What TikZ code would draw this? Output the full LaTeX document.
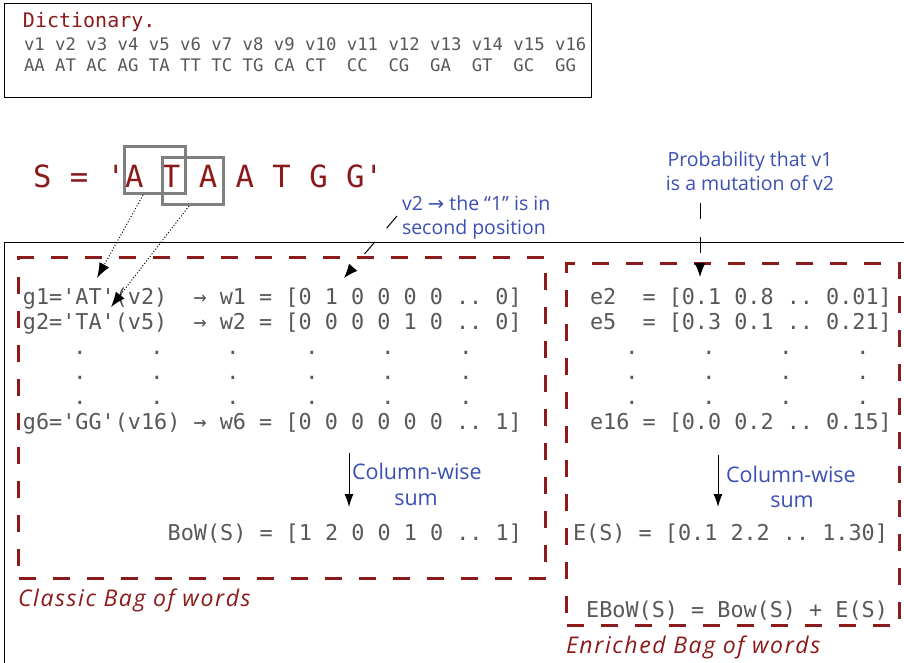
\documentclass[tikz,border=0pt]{standalone}
\usepackage{fontspec}
\setmonofont{DejaVu Sans Mono}
\newfontfamily\labfont{Open Sans}
\newfontfamily\italfont[LetterSpace=7]{Open Sans Italic}
\newfontfamily\symfont{DejaVu Sans}
\usetikzlibrary{arrows.meta,calc}
\definecolor{dred}{RGB}{139,26,26}
\definecolor{lblue}{RGB}{60,80,180}
\definecolor{tgray}{RGB}{88,88,88}
\definecolor{bgray}{RGB}{128,128,128}
\begin{document}
\begin{tikzpicture}[x=1pt,y=-1pt,
  txt/.style={inner sep=0pt,outer sep=0pt,anchor=base west},
  mono/.style={txt,font=\ttfamily\fontsize{21.8}{24}\selectfont,text=tgray},
  dictt/.style={txt,font=\ttfamily\fontsize{17.3}{20}\selectfont,text=tgray},
  bigmono/.style={txt,font=\ttfamily\fontsize{30.6}{34}\selectfont,text=dred},
  lab/.style={txt,font=\labfont\fontsize{19.5}{24}\selectfont,text=lblue},
  sumlab/.style={txt,font=\labfont\fontsize{21.5}{24}\selectfont,text=lblue},
  ital/.style={txt,font=\italfont\fontsize{23}{28}\selectfont,text=dred},
  redbox/.style={draw=dred,line width=3.2pt,dash pattern=on 17pt off 17pt,inner sep=0pt,anchor=north west},
  gbox/.style={draw=bgray,line width=3pt,inner sep=0pt,anchor=north west,minimum width=61pt,minimum height=47pt},
  dotarrow/.style={dotted,line width=1pt,-{Latex[length=15pt,width=11pt]}},
  dasharrow/.style={line width=1pt,dash pattern=on 16pt off 18pt,-{Latex[length=14pt,width=11pt]}},
  sumarrow/.style={line width=1pt,-{Latex[length=13pt,width=9pt]}}
]
\clip (0,0) rectangle (904,663);
\fill[white] (0,0) rectangle (904,663);

% dictionary
\node[draw,line width=1pt,inner sep=0pt,anchor=north west,minimum width=587pt,minimum height=94pt] (dictbox) at (4,3) {};
\node[dictt,text=dred,font=\ttfamily\fontsize{20}{22}\selectfont] (dtitle) at (23,28) {Dictionary.};
\node[dictt] (vrow) at (24,51) {v1 v2 v3 v4 v5 v6 v7 v8 v9 v10 v11 v12 v13 v14 v15 v16};
\node[dictt] (arow) at (24,72) {AA AT AC AG TA TT TC TG CA CT~~CC~~CG~~GA~~GT~~GC~~GG};

% sequence
\node[bigmono] (seq) at (33,188) {S = 'A T A A T G G'};
\node[gbox] (b1) at (123,145) {};
\node[gbox] (b2) at (161,156) {};

% outer frame
\node[draw,line width=1.2pt,inner sep=0pt,anchor=north west,minimum width=930pt,minimum height=450pt] (frame) at (4,242) {};

% dashed boxes
\node[redbox,minimum width=527pt,minimum height=321pt] (cbox) at (17,256) {};
\node[redbox,minimum width=333pt,minimum height=362pt] (ebox) at (565,262) {};

% left block
\node[mono] (g1) at (23,304) {g1='AT'(v2)~~→ w1 = [0 1 0 0 0 0 .. 0]};
\node[mono] (g2) at (23,329) {g2='TA'(v5)~~→ w2 = [0 0 0 0 1 0 .. 0]};
\node[mono] (g6) at (23,429) {g6='GG'(v16) → w6 = [0 0 0 0 0 0 .. 1]};
\foreach \x in {80,157,233,312,388,466}
  \foreach \y in {354,379,404}
    \node[mono,anchor=base] (dl-\x-\y) at (\x,\y) {.};
\node[mono,anchor=base east] (bow) at (522,540) {BoW(S) = [1 2 0 0 1 0 .. 1]};

% right block
\node[mono] (e2) at (590,304) {e2~~= [0.1 0.8 .. 0.01]};
\node[mono] (e5) at (590,329) {e5~~= [0.3 0.1 .. 0.21]};
\node[mono] (e16) at (590,429) {e16 = [0.0 0.2 .. 0.15]};
\foreach \x in {632,709,786,863}
  \foreach \y in {354,379,404}
    \node[mono,anchor=base] (dr-\x-\y) at (\x,\y) {.};
\node[mono,anchor=base east] (es) at (888,540) {E(S) = [0.1 2.2 .. 1.30]};
\node[mono,anchor=base east] (ebow) at (888,617) {EBoW(S) = Bow(S) + E(S)};

% labels
\node[ital] (clab) at (18,606) {Classic Bag of words};
\node[ital] (elab) at (566,653) {Enriched Bag of words};
\node[lab] (v2a) at (402,210) {v2 {\symfont →} the “1” is in};
\node[lab] (v2b) at (402,234) {second position};
\node[lab,anchor=base] (pa) at (750,167) {Probability that v1};
\node[lab,anchor=base] (pb) at (750,190) {is a mutation of v2};
\node[sumlab] (cw1) at (352,479) {Column-wise};
\node[sumlab,anchor=base] (cs1) at (416,505) {sum};
\node[sumlab] (cw2) at (726,482) {Column-wise};
\node[sumlab,anchor=base] (cs2) at (792,507) {sum};

% connectors
\coordinate (t1) at (97,278);
\coordinate (t2) at (111,307);
\draw[dotarrow] ($(b1.south west)+(20,0)$) -- (t1);
\draw[dotarrow] ($(b2.south west)+(28,0)$) -- (t2);
\coordinate (v2s) at (397,216);
\coordinate (v2t) at (344,278);
\draw[dasharrow] (v2s) -- (v2t);
\coordinate (ps) at (700,203);
\coordinate (pt) at (700,277);
\draw[dasharrow] (ps) -- (pt);
\coordinate (s1s) at (349,453);
\coordinate (s1t) at (349,507);
\draw[sumarrow] (s1s) -- (s1t);
\coordinate (s2s) at (718,455);
\coordinate (s2t) at (718,507);
\draw[sumarrow] (s2s) -- (s2t);
\end{tikzpicture}
\end{document}
